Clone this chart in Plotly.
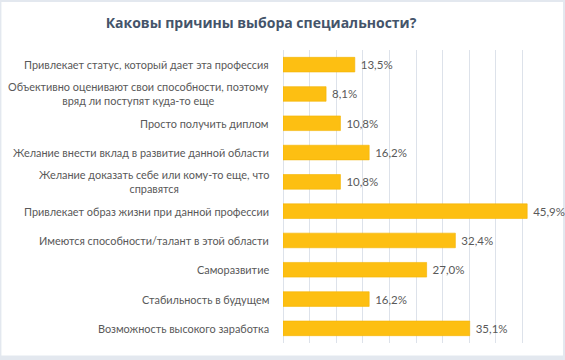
import plotly.graph_objects as go

categories = [
    "Привлекает статус, который дает эта профессия",
    "Объективно оценивают свои способности, поэтому<br>вряд ли поступят куда-то еще",
    "Просто получить диплом",
    "Желание внести вклад в развитие данной области",
    "Желание доказать себе или кому-то еще, что<br>справятся",
    "Привлекает образ жизни при данной профессии",
    "Имеются способности/талант в этой области",
    "Саморазвитие",
    "Стабильность в будущем",
    "Возможность высокого заработка",
]
values = [13.5, 8.1, 10.8, 16.2, 10.8, 45.9, 32.4, 27.0, 16.2, 35.1]
value_labels = ["\u00a0" + f"{v:.1f}".replace(".", ",") + "%" for v in values]
title_text = "Каковы причины выбора специальности?"

W, H = 565, 360
L, R, T, B = 283.3, 549.5, 50, 343

fig = go.Figure()
fig.add_trace(go.Bar(
    y=categories, x=values, orientation="h",
    width=0.5,
    marker=dict(color="#FDBF12", line=dict(color="#F3B400", width=0.6)),
    text=value_labels, textposition="outside",
    textfont=dict(family="Lato", size=11.5, color="#595959"),
    cliponaxis=False,
    hoverinfo="skip",
))

for c in categories:
    fig.add_annotation(
        x=0, xref="paper", y=c, yref="y",
        text=c, showarrow=False, xanchor="right", yanchor="middle",
        align="center", xshift=-12,
        font=dict(family="Lato", size=10.9, color="#595959"),
    )

def px2x(px):
    return (px - L) / (R - L)

def py2y(py):
    return (B - py) / (B - T)

fig.add_shape(type="rect", xref="paper", yref="paper", layer="below",
              x0=px2x(1.5), x1=px2x(563.5), y0=py2y(355.5), y1=py2y(2),
              fillcolor="white", line=dict(width=0))

fig.update_layout(
    width=W, height=H,
    margin=dict(l=L, r=W - R, t=T, b=H - B, pad=0),
    paper_bgcolor="#E3E8EF",
    plot_bgcolor="rgba(0,0,0,0)",
    showlegend=False,
    title=dict(text=f"<b>{title_text}</b>", x=261 / W, xanchor="center",
               y=1 - 23 / H, yanchor="middle", xref="container", yref="container",
               font=dict(family="Open Sans", size=14, color="#44546A")),
    xaxis=dict(range=[0, 50], dtick=5, showticklabels=False, showgrid=True,
               gridcolor="#DDE2EA", gridwidth=1, zeroline=True,
               zerolinecolor="#DDE2EA", zerolinewidth=1, fixedrange=True),
    yaxis=dict(autorange="reversed", showticklabels=False, showgrid=False,
               zeroline=False, fixedrange=True),
)

fig.write_html("out.html", config={"displayModeBar": False},
               post_script="document.body.style.margin='0';document.body.style.overflow='hidden';")
